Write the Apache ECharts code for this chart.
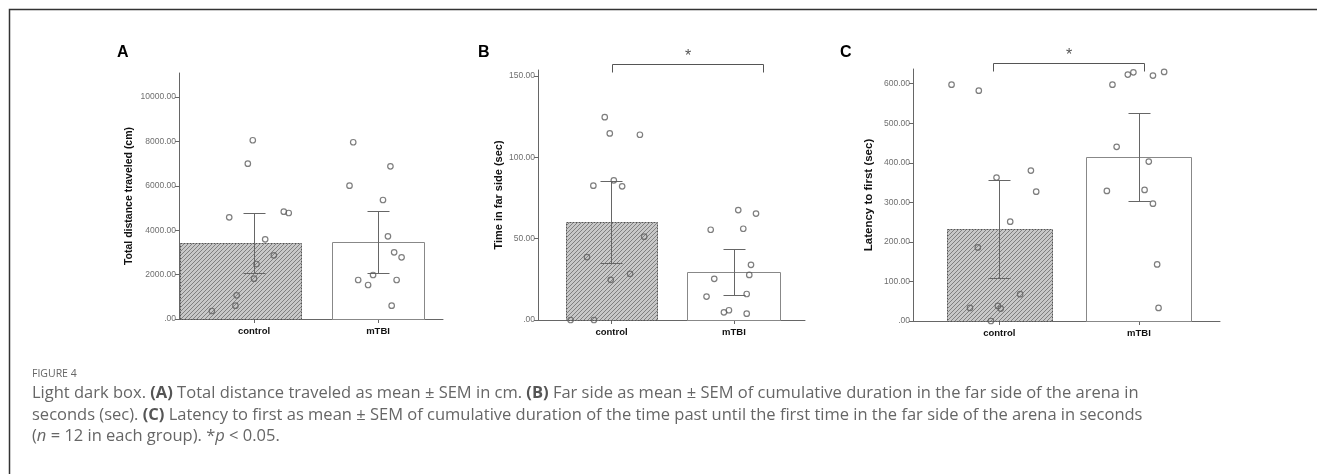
<!DOCTYPE html>
<html>
<head>
<meta charset="utf-8">
<script src="https://cdn.jsdelivr.net/npm/echarts@6/dist/echarts.min.js"></script>
<style>
  html, body { margin: 0; padding: 0; background: #fff; }
  #chart { width: 1317px; height: 474px; }
</style>
</head>
<body>
<div id="chart"></div>
<script>
const categories = ['control', 'mTBI']

// A: total distance traveled (cm)
const distMean = [3425, 3470]
const distSem = [1350, 1400]
const distControl = [8050, 6996, 4580, 4833, 4775, 3590, 2869, 2477, 1816, 1066, 601, 360]
const distControlJitter = [-0.01, -0.05, -0.20, 0.24, 0.28, 0.09, 0.16, 0.02, 0.0, -0.14, -0.15, -0.34]
const distTbi = [7960, 6877, 6006, 5360, 3725, 3003, 2778, 1982, 1757, 1757, 1532, 601]
const distTbiJitter = [-0.20, 0.10, -0.23, 0.04, 0.08, 0.13, 0.19, -0.04, -0.16, 0.15, -0.08, 0.11]
const distTicks = [0, 2000, 4000, 6000, 8000, 10000]

// B: time in far side (sec)
const farMean = [60.4, 29.5]
const farSem = [25.2, 14.2]
const farControl = [124.7, 114.7, 113.9, 85.9, 82.6, 82.2, 51.2, 38.7, 28.4, 24.7, 0, 0]
const farControlJitter = [-0.055, -0.014, 0.232, 0.019, -0.148, 0.087, 0.267, -0.2, 0.152, -0.006, -0.334, -0.143]
const farTbi = [67.6, 65.4, 55.5, 56.1, 33.9, 27.7, 25.3, 14.4, 16.0, 4.7, 6.0, 3.9]
const farTbiJitter = [0.035, 0.18, -0.19, 0.076, 0.139, 0.125, -0.161, -0.224, 0.104, -0.082, -0.041, 0.104]
const farTicks = [0, 50, 100, 150]

// C: latency to first (sec)
const latMean = [232.4, 414.5]
const latSem = [124.6, 112]
const latControl = [597.5, 582.3, 362.5, 380.2, 327, 251, 186, 67.7, 33, 38, 31.4, 0]
const latControlJitter = [-0.342, -0.147, -0.02, 0.226, 0.264, 0.078, -0.154, 0.149, -0.21, -0.01, 0.01, -0.06]
const latTbi = [597.5, 622.8, 628.6, 620.3, 629.5, 440.3, 403, 328.8, 331.3, 296.6, 143, 33]
const latTbiJitter = [-0.19, -0.08, -0.04, 0.1, 0.18, -0.16, 0.07, -0.23, 0.04, 0.1, 0.13, 0.14]
const latTicks = [0, 100, 200, 300, 400, 500, 600]

const panels = [
  {
    letter: 'A', name: 'Total distance traveled (cm)', nameSize: 10.5, nameGap: 44,
    grid: { left: 179, right: 874, top: 73, bottom: 155 },
    xMin: -0.605, xMax: 1.524, yMax: 11080, ticks: distTicks,
    bars: [[-0.6, 0.38], [-0.375, 0.372]],
    mean: distMean, sem: distSem,
    points: [[distControl, distControlJitter], [distTbi, distTbiJitter]],
    bracket: null, letterPos: [117, 53]
  },
  {
    letter: 'B', name: 'Time in far side (sec)', nameSize: 11, nameGap: 34,
    grid: { left: 538, right: 512, top: 70, bottom: 154 },
    xMin: -0.6, xMax: 1.58, yMax: 153.7, ticks: farTicks,
    bars: [[-0.375, 0.375], [-0.382, 0.372]],
    mean: farMean, sem: farSem,
    points: [[farControl, farControlJitter], [farTbi, farTbiJitter]],
    bracket: [0.008, 1.235], letterPos: [478, 53]
  },
  {
    letter: 'C', name: 'Latency to first (sec)', nameSize: 11.5, nameGap: 38,
    grid: { left: 913, right: 97, top: 69, bottom: 153 },
    xMin: -0.618, xMax: 1.58, yMax: 637, ticks: latTicks,
    bars: [[-0.377, 0.374], [-0.376, 0.373]],
    mean: latMean, sem: latSem,
    points: [[latControl, latControlJitter], [latTbi, latTbiJitter]],
    bracket: [-0.045, 1.035], letterPos: [840, 53]
  }
]

function hatch() {
  const c = document.createElement('canvas')
  c.width = 4
  c.height = 4
  const ctx = c.getContext('2d')
  ctx.fillStyle = '#c8c8c8'
  ctx.fillRect(0, 0, 4, 4)
  ctx.strokeStyle = '#808080'
  ctx.lineWidth = 1
  ctx.beginPath()
  ctx.moveTo(0, 4); ctx.lineTo(4, 0)
  ctx.moveTo(-1, 1); ctx.lineTo(1, -1)
  ctx.moveTo(3, 5); ctx.lineTo(5, 3)
  ctx.stroke()
  return c
}
const hatchFill = { image: hatch(), repeat: 'repeat' }

const font = 'Liberation Sans'
const snap = v => Math.round(v) + 0.5

const grids = []
const xAxes = []
const yAxes = []
const series = []
const graphics = []

panels.forEach((p, k) => {
  grids.push(p.grid)
  xAxes.push({
    type: 'value', gridIndex: k, min: p.xMin, max: p.xMax,
    splitLine: { show: false },
    axisLine: { onZero: false, lineStyle: { color: '#666', width: 1 } },
    axisTick: { customValues: [0, 1], length: 4, lineStyle: { color: '#666' } },
    axisLabel: {
      customValues: [0, 1], formatter: v => categories[Math.round(v)],
      color: '#111', fontWeight: 'bold', fontSize: 9.5, fontFamily: font, margin: 7
    }
  })
  yAxes.push({
    type: 'value', gridIndex: k, min: 0, max: p.yMax,
    name: p.name, nameLocation: 'middle', nameGap: p.nameGap, nameRotate: 90,
    nameTextStyle: { color: '#111', fontWeight: 'bold', fontSize: p.nameSize, fontFamily: font },
    splitLine: { show: false },
    axisLine: { show: true, onZero: false, lineStyle: { color: '#666', width: 1 } },
    axisTick: { show: true, customValues: p.ticks, length: 4, lineStyle: { color: '#666' } },
    axisLabel: {
      customValues: p.ticks, formatter: v => v === 0 ? '.00' : v.toFixed(2),
      color: '#6f6f6f', fontSize: 8.5, fontFamily: font, margin: 3
    }
  })

  // bars
  series.push({
    type: 'custom', xAxisIndex: k, yAxisIndex: k, z: 2,
    data: p.mean.map((m, i) => [i, m]),
    renderItem: (params, api) => {
      const i = api.value(0)
      const ext = p.bars[i]
      const a = api.coord([i + ext[0], 0])
      const b = api.coord([i + ext[1], api.value(1)])
      const x0 = snap(a[0]), x1 = snap(b[0]), y0 = snap(a[1]), y1 = snap(b[1])
      return {
        type: 'rect',
        shape: { x: x0, y: y1, width: x1 - x0, height: y0 - y1 },
        style: i === 0
          ? { fill: hatchFill, stroke: '#555', lineWidth: 1, lineDash: [2, 1] }
          : { fill: '#fff', stroke: '#888', lineWidth: 1 }
      }
    }
  })

  // error bars (mean ± SEM)
  series.push({
    type: 'custom', xAxisIndex: k, yAxisIndex: k, z: 3,
    data: p.mean.map((m, i) => [i, m, p.sem[i]]),
    renderItem: (params, api) => {
      const i = api.value(0), m = api.value(1), s = api.value(2)
      const top = api.coord([i, m + s])
      const bot = api.coord([i, m - s])
      const x = snap(top[0]), yt = snap(top[1]), yb = snap(bot[1])
      const st = { stroke: '#666', lineWidth: 1 }
      return {
        type: 'group',
        children: [
          { type: 'line', shape: { x1: x, y1: yt, x2: x, y2: yb }, style: st },
          { type: 'line', shape: { x1: x - 11, y1: yt, x2: x + 11, y2: yt }, style: st },
          { type: 'line', shape: { x1: x - 11, y1: yb, x2: x + 11, y2: yb }, style: st }
        ]
      }
    }
  })

  // individual animals
  p.points.forEach((pts, i) => {
    series.push({
      type: 'scatter', xAxisIndex: k, yAxisIndex: k, z: 4,
      symbol: 'circle', symbolSize: 5.5,
      itemStyle: { color: 'rgba(255,255,255,0)', borderColor: '#5e5e5e', borderWidth: 1.2 },
      data: pts[0].map((v, j) => [i + pts[1][j], v]),
      silent: true, clip: false
    })
  })

  // significance bracket
  if (p.bracket) {
    series.push({
      type: 'custom', xAxisIndex: k, yAxisIndex: k, z: 3, clip: false,
      data: [[p.bracket[0], p.bracket[1], p.yMax]],
      renderItem: (params, api) => {
        const a = api.coord([api.value(0), api.value(2)])
        const b = api.coord([api.value(1), api.value(2)])
        const x0 = snap(a[0]), x1 = snap(b[0]), yTop = snap(a[1] - 6)
        const st = { stroke: '#555', lineWidth: 1, fill: null }
        return {
          type: 'group',
          children: [
            { type: 'polyline', shape: { points: [[x0, yTop + 8], [x0, yTop], [x1, yTop], [x1, yTop + 8]] }, style: st },
            {
              type: 'text', x: (x0 + x1) / 2, y: yTop - 8,
              style: { text: '*', fill: '#555', font: '16px ' + font, align: 'center', verticalAlign: 'middle' }
            }
          ]
        }
      }
    })
  }

  graphics.push({
    type: 'text', left: p.letterPos[0], top: p.letterPos[1] - 8,
    style: { text: p.letter, fill: '#000', font: 'bold 16px ' + font }
  })
})

// frame and caption
graphics.push({
  type: 'rect', shape: { x: 9.5, y: 9.5, width: 1400, height: 600 },
  style: { fill: null, stroke: '#333', lineWidth: 1.5 }, silent: true
})
graphics.push({
  type: 'text', left: 32, top: 369,
  style: { text: 'FIGURE 4', fill: '#666', font: '10.5px "Open Sans"' }
})
const capFont = '"Open Sans"'
const capSize = 16.5
const capRich = {
  b: { fontWeight: 'bold', fontFamily: capFont, fontSize: capSize, fill: '#555' },
  i: { fontStyle: 'italic', fontFamily: capFont, fontSize: capSize, fill: '#666' }
}
const capLines = [
  'Light dark box. {b|(A)} Total distance traveled as mean ± SEM in cm. {b|(B)} Far side as mean ± SEM of cumulative duration in the far side of the arena in',
  'seconds (sec). {b|(C)} Latency to first as mean ± SEM of cumulative duration of the time past until the first time in the far side of the arena in seconds',
  '({i|n} = 12 in each group). *{i|p} < 0.05.'
]
capLines.forEach((t, j) => {
  graphics.push({
    type: 'text', left: 32, top: 385 + j * 21.5,
    style: { text: t, fill: '#666', font: capSize + 'px ' + capFont, rich: capRich }
  })
})

const chart = echarts.init(document.getElementById('chart'))
chart.setOption({
  animation: false,
  grid: grids,
  xAxis: xAxes,
  yAxis: yAxes,
  series: series,
  graphic: graphics
})
</script>
</body>
</html>
